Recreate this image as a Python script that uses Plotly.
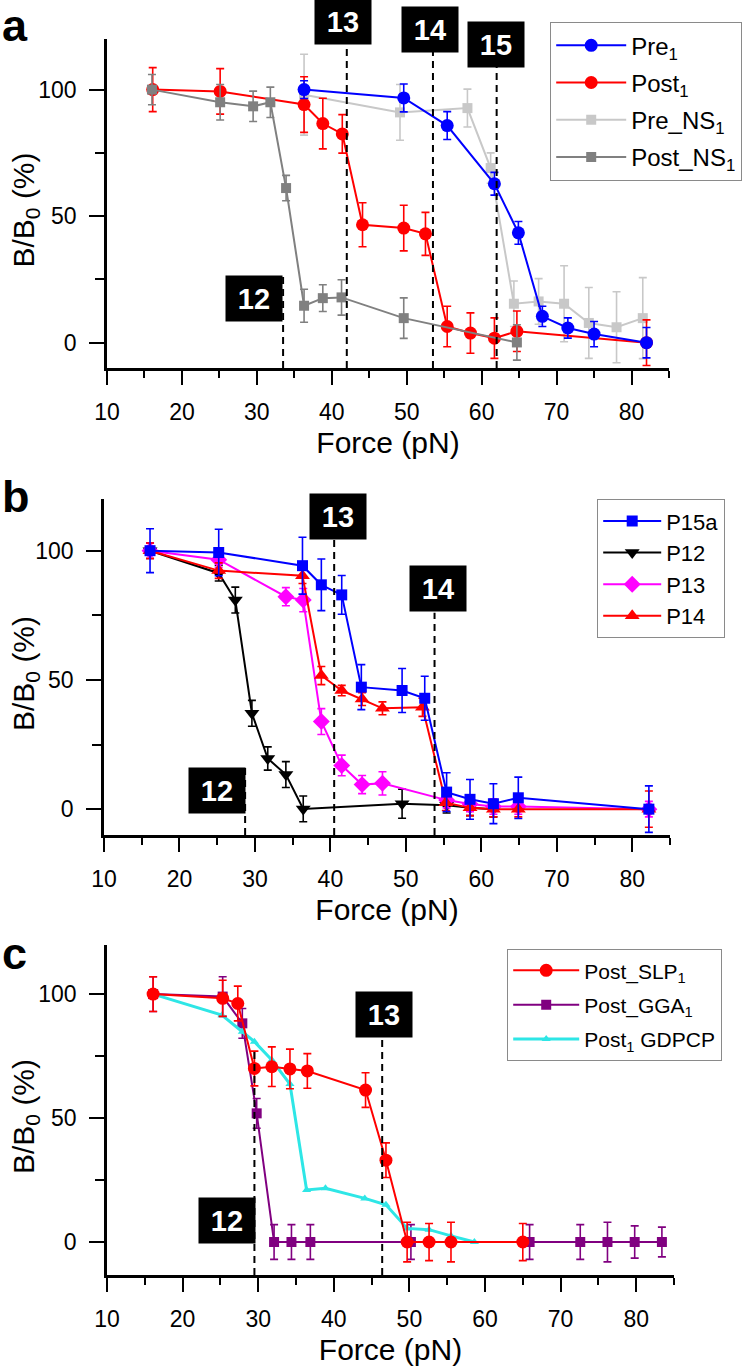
import plotly.graph_objects as go

FONT = "Liberation Sans, Arial, sans-serif"

# ---------------- Panel a data ----------------
a_pre1_x = [36.3, 49.6, 55.4, 61.7, 64.9, 68.1, 71.5, 75.0, 82.0]
a_pre1_y = [100, 96.7, 85.8, 62.8, 43.4, 10.4, 5.8, 3.4, 0]
a_pre1_e = [3.5, 5.5, 5.5, 4.5, 4.5, 4, 4, 5, 6]

a_post1_x = [16.1, 25.1, 36.3, 38.8, 41.4, 44.1, 49.6, 52.5, 55.4, 58.5, 61.7, 64.7, 82.0]
a_post1_y = [100, 99.3, 94.1, 86.6, 82.5, 46.6, 45.3, 43.0, 6.4, 3.8, 1.8, 4.5, 0]
a_post1_e = [8.7, 9, 11, 10, 7.6, 8.7, 9, 8.5, 8, 8, 8, 8, 9]

a_prens_x = [36.3, 49.1, 58.1, 61.2, 64.3, 67.6, 71.0, 74.3, 78.0, 81.5]
a_prens_y = [98, 91, 92.7, 69, 15.4, 16.3, 15.4, 7.8, 6.1, 9.7]
a_prens_e = [16, 11, 7.5, 6, 9, 9, 15, 14, 14, 16]

a_postns_x = [16.0, 25.1, 29.5, 31.8, 33.9, 36.3, 38.8, 41.3, 49.6, 64.7]
a_postns_y = [100, 95, 93.4, 95, 61.1, 14.6, 17.6, 17.9, 9.7, 0.1]
a_postns_e = [6, 7, 6, 6, 5, 6.5, 5.3, 7, 8, 7]

a_mark_x = [33.5, 42.0, 53.5, 62.0]
a_mark_top = [26.5, 118, 115, 109]
a_mark_lbl = ["12", "13", "14", "15"]
a_box_x = [33.5, 41.5, 53.1, 61.9]
a_box_y = [17.4, 126.9, 123.9, 118.0]

# ---------------- Panel b data ----------------
b_p15_x = [16.1, 25.2, 36.3, 38.8, 41.5, 44.1, 49.5, 52.5, 55.4, 58.5, 61.6, 64.9, 82.2]
b_p15_y = [100, 99.3, 94.2, 86.8, 82.9, 47.2, 45.9, 42.9, 6.6, 3.8, 2.1, 4.4, 0]
b_p15_e = [8.5, 9, 11, 10, 7.5, 8.7, 8.5, 8.5, 7.5, 7.7, 7.7, 8, 9]

b_p12_x = [16.1, 25.2, 27.4, 29.6, 31.7, 34.1, 36.4, 49.5, 55.4, 58.5, 61.6]
b_p12_y = [100, 91.3, 80.9, 37.1, 19.6, 13.4, 0.1, 2.1, 1.5, 0.5, 0]
b_p12_e = [3, 3, 5, 5, 4.5, 5, 5, 5.6, 3, 3, 3]

b_p13_x = [16.1, 25.2, 34.1, 36.4, 38.8, 41.5, 44.2, 46.9, 55.4, 58.5, 61.6, 64.9, 82.2]
b_p13_y = [100, 96.5, 82.2, 80.9, 33.9, 16.9, 9.5, 10.0, 3.5, 2.0, 1.0, 1.0, 0]
b_p13_e = [3, 3, 3.5, 4.5, 5, 4, 3.5, 4.5, 3, 3, 3, 3, 3]

b_p14_x = [16.1, 25.2, 36.3, 38.8, 41.5, 44.2, 46.9, 52.2, 55.3, 58.5, 61.6, 64.9, 82.2]
b_p14_y = [100, 92.3, 90.3, 51.7, 45.9, 42.6, 39.0, 39.4, 2.5, 0.5, 0, 0, 0]
b_p14_e = [3, 3, 3, 3.5, 2, 2.5, 2.5, 3.5, 3, 3, 3, 3, 7]

b_mark_x = [28.7, 40.5, 53.8]
b_mark_top = [16, 105, 76]
b_mark_lbl = ["12", "13", "14"]
b_box_x = [28.8, 41.0, 54.2]
b_box_y = [7.4, 113.3, 85.2]

# ---------------- Panel c data ----------------
c_slp_x = [16.1, 25.3, 27.3, 29.5, 31.8, 34.2, 36.5, 44.2, 46.9, 49.7, 52.6, 55.5, 65.0]
c_slp_y = [100, 98.3, 96.2, 70, 70.7, 69.8, 69, 61.3, 33, 0, 0, 0, 0]
c_slp_e = [7, 7.3, 7, 7, 8, 8, 7, 7, 7, 8, 7.5, 8, 7.5]

c_gga_x = [16.1, 25.3, 27.9, 29.8, 32.1, 34.4, 36.9, 50.2, 65.9, 72.6, 76.2, 79.8, 83.4]
c_gga_y = [100, 99, 88.2, 51.9, 0, 0, 0, 0, 0, 0, 0, 0, 0]
c_gga_e = [7, 8, 6, 6, 7, 7, 7, 7, 7, 7, 8, 6.5, 6]

c_gdp_x = [16.1, 25.2, 27.9, 29.5, 31.8, 34.2, 36.4, 38.9, 44.1, 46.9, 49.7, 52.6, 55.5, 58.6]
c_gdp_y = [100, 91.5, 84.8, 80.8, 73.4, 63.7, 21.0, 21.7, 17.6, 15.0, 5.5, 5.0, 2.5, 0]

c_mark_x = [29.5, 46.4]
c_mark_top = [77, 82]
c_mark_lbl = ["12", "13"]
c_box_x = [29.7, 46.6]
c_box_y = [8.5, 91.7]

# ---------------- figure ----------------
fig = go.Figure()

def add(x, y, e, name, color, symbol, size, xa, ya, legend, rank, lw=2, show_err=True):
    fig.add_trace(go.Scatter(
        x=x, y=y, name=name, mode="lines+markers",
        line=dict(color=color, width=lw),
        marker=dict(color=color, symbol=symbol, size=size),
        error_y=dict(type="data", array=e, visible=show_err and e is not None,
                     color=color, thickness=1.6, width=4),
        xaxis=xa, yaxis=ya, legend=legend, legendrank=rank, legendgroup=name,
    ))

# panel a (draw order vs legend order)
add(a_prens_x, a_prens_y, a_prens_e, "Pre_NS<sub>1</sub>", "#c8c8c8", "square", 10, "x", "y", "legend", 3)
add(a_post1_x, a_post1_y, a_post1_e, "Post<sub>1</sub>", "#ff0000", "circle", 13, "x", "y", "legend", 2)
add(a_postns_x, a_postns_y, a_postns_e, "Post_NS<sub>1</sub>", "#808080", "square", 10, "x", "y", "legend", 4)
add(a_pre1_x, a_pre1_y, a_pre1_e, "Pre<sub>1</sub>", "#0000ff", "circle", 13, "x", "y", "legend", 1)

# panel b
add(b_p12_x, b_p12_y, b_p12_e, "P12", "#000000", "triangle-down", 13, "x2", "y2", "legend2", 2)
add(b_p13_x, b_p13_y, b_p13_e, "P13", "#ff00ff", "diamond", 13, "x2", "y2", "legend2", 3)
add(b_p14_x, b_p14_y, b_p14_e, "P14", "#ff0000", "triangle-up", 13, "x2", "y2", "legend2", 4)
add(b_p15_x, b_p15_y, b_p15_e, "P15a", "#0000ff", "square", 11, "x2", "y2", "legend2", 1)

# panel c
add(c_gga_x, c_gga_y, c_gga_e, "Post_GGA<sub>1</sub>", "#800080", "square", 10, "x3", "y3", "legend3", 2)
add(c_gdp_x, c_gdp_y, None, "Post<sub>1</sub> GDPCP", "#2ee6e6", "triangle-up", 8, "x3", "y3", "legend3", 3, lw=3, show_err=False)
add(c_slp_x, c_slp_y, c_slp_e, "Post_SLP<sub>1</sub>", "#ff0000", "circle", 13, "x3", "y3", "legend3", 1)

W, H = 752, 1367
def px_x(p):
    return p / W
def px_y(p):
    return 1 - p / H

xdoms = [(107, 669), (104, 670), (107, 674)]
ydoms = [(39, 368), (499, 835), (945, 1275)]
yranges = [[-10, 120], [-10, 120], [-13.3, 119.8]]

axis_common = dict(showline=True, linecolor="black", linewidth=2.6, mirror=False,
                   showgrid=False, zeroline=False, ticks="outside", tickcolor="black",
                   automargin=False,
                   tickwidth=2.4, tickfont=dict(family=FONT, size=23, color="black"))

layout = dict(width=W, height=H, margin=dict(l=0, r=0, t=0, b=0, autoexpand=False),
              plot_bgcolor="white", paper_bgcolor="white",
              font=dict(family=FONT, color="black"), showlegend=True)

for i in range(3):
    sx = "" if i == 0 else str(i + 1)
    xd, yd = xdoms[i], ydoms[i]
    layout["xaxis" + sx] = dict(axis_common, domain=[px_x(xd[0]), px_x(xd[1])], range=[10, 85],
                                dtick=10, tick0=10, ticklen=14, ticklabelstandoff=8,
                                minor=dict(dtick=5, tick0=10, ticklen=7, tickwidth=2.4, tickcolor="black", ticks="outside"),
                                anchor="y" + sx,
                                title=dict(text="Force (pN)", font=dict(family=FONT, size=30), standoff=8))
    layout["yaxis" + sx] = dict(axis_common, domain=[px_y(yd[1]), px_y(yd[0])], range=yranges[i],
                                dtick=50, tick0=0, ticklen=15, ticklabelstandoff=8,
                                minor=dict(dtick=25, tick0=0, ticklen=9, tickwidth=2.4, tickcolor="black", ticks="outside"),
                                anchor="x" + sx)

leg_common = dict(bgcolor="white", bordercolor="#8a8a8a", borderwidth=1.2,
                  xanchor="left", yanchor="top", traceorder="grouped")
layout["legend"] = dict(leg_common, x=px_x(550), y=px_y(22), font=dict(family=FONT, size=24),
                        tracegroupgap=3, itemwidth=70)
layout["legend2"] = dict(leg_common, x=px_x(597), y=px_y(499), font=dict(family=FONT, size=22),
                         tracegroupgap=0, itemwidth=58)
layout["legend3"] = dict(leg_common, x=px_x(507), y=px_y(949), font=dict(family=FONT, size=21),
                         tracegroupgap=4, itemwidth=66)

fig.update_layout(**layout)

shapes = []
annotations = []
panels = [
    ("x", "y", a_mark_x, a_mark_top, a_mark_lbl, a_box_x, a_box_y, yranges[0]),
    ("x2", "y2", b_mark_x, b_mark_top, b_mark_lbl, b_box_x, b_box_y, yranges[1]),
    ("x3", "y3", c_mark_x, c_mark_top, c_mark_lbl, c_box_x, c_box_y, yranges[2]),
]
for xr, yr, mx, mt, ml, bx, by, yrg in panels:
    for X, T, L, BX, BY in zip(mx, mt, ml, bx, by):
        shapes.append(dict(type="line", xref=xr, yref=yr, x0=X, x1=X, y0=yrg[0], y1=T,
                           line=dict(color="black", width=2, dash="7px,5px")))
        anchor = "right" if L == "12" else "center"
        yfrac = (BY - yrg[0]) / (yrg[1] - yrg[0])
        annotations.append(dict(xref=xr, yref=yr + " domain", x=BX, y=yfrac, xanchor=anchor, yanchor="middle",
                                text="<b>%s</b>" % L, showarrow=False, bgcolor="black",
                                font=dict(family=FONT, size=29, color="white"),
                                width=50, height=39, borderpad=3))
    # y-axis title placed beside the axis
    annotations.append(dict(xref="paper", yref=yr + " domain", x=px_x(25), y=0.5, xanchor="center",
                            yanchor="middle", yshift=-7, textangle=-90, showarrow=False,
                            text="B/B<sub>0</sub> (%)", font=dict(family=FONT, size=30, color="black")))

for lbl, yy in [("a", 25), ("b", 496), ("c", 953)]:
    annotations.append(dict(xref="paper", yref="paper", x=0, y=px_y(yy), xanchor="left", yanchor="middle",
                            text="<b>%s</b>" % lbl, showarrow=False,
                            font=dict(family=FONT, size=45, color="black")))

fig.update_layout(shapes=shapes, annotations=annotations)
fig.write_html("out.html", config={"displayModeBar": False},
               post_script="document.body.style.margin='0';document.body.style.overflow='hidden';")
